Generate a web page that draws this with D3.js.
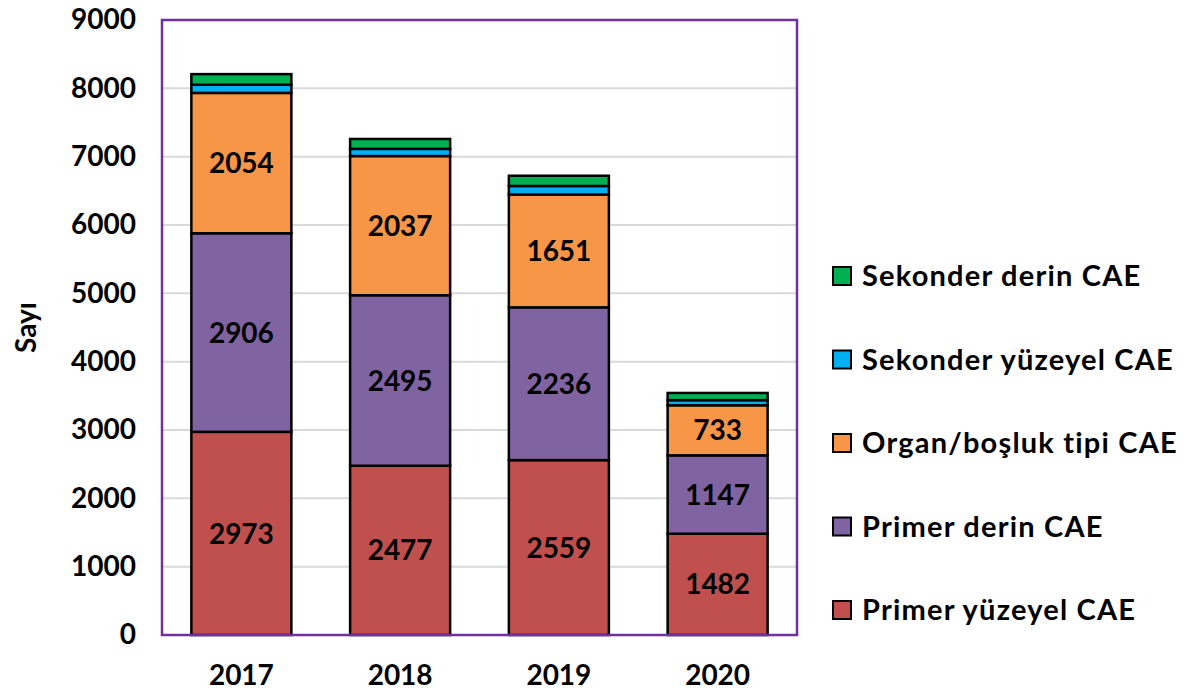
<!DOCTYPE html>
<html>
<head>
<meta charset="utf-8">
<script src="https://cdn.jsdelivr.net/npm/d3@7"></script>
<style>
  body { margin: 0; background: #fff; }
  text { font-family: Lato, "Open Sans", sans-serif; font-weight: bold; }
</style>
</head>
<body>
<div id="chart"></div>
<script>
var years = ["2017", "2018", "2019", "2020"];
var seriesNames = ["Primer yüzeyel CAE", "Primer derin CAE", "Organ/boşluk tipi CAE", "Sekonder yüzeyel CAE", "Sekonder derin CAE"];
var seriesColors = ["#c0504d", "#8064a2", "#f79646", "#00b0f0", "#00b050"];
var primerYuzeyel = [2973, 2477, 2559, 1482];
var primerDerin = [2906, 2495, 2236, 1147];
var organBosluk = [2054, 2037, 1651, 733];
var sekonderYuzeyel = [120, 105, 125, 75];
var sekonderDerin = [155, 145, 150, 105];
var yTicks = [0, 1000, 2000, 3000, 4000, 5000, 6000, 7000, 8000, 9000];

var width = 1200, height = 693;
var margin = {top: 20, right: 403, bottom: 58, left: 162};
var plotW = width - margin.left - margin.right;
var plotH = height - margin.top - margin.bottom;

var seriesValues = [primerYuzeyel, primerDerin, organBosluk, sekonderYuzeyel, sekonderDerin];
var table = years.map(function(y, i) {
    var row = {year: y};
    seriesNames.forEach(function(s, j) { row[s] = seriesValues[j][i]; });
    return row;
});
var stacked = d3.stack().keys(seriesNames)(table);

var svg = d3.select("#chart").append("svg")
    .attr("width", width)
    .attr("height", height);

var g = svg.append("g")
    .attr("transform", "translate(" + margin.left + "," + margin.top + ")");

var x = d3.scaleBand().domain(years).range([0, plotW]).paddingInner(0.37).paddingOuter(0.185);
var y = d3.scaleLinear().domain([0, 9000]).range([plotH, 0]);

// gridlines
g.selectAll(".grid")
    .data(yTicks.slice(1))
    .enter().append("line")
    .attr("x1", 0).attr("x2", plotW)
    .attr("y1", function(d) { return y(d); })
    .attr("y2", function(d) { return y(d); })
    .attr("stroke", "#d9d9d9")
    .attr("stroke-width", 2);

// bars
var layers = g.selectAll(".layer")
    .data(stacked)
    .enter().append("g")
    .attr("fill", function(d, i) { return seriesColors[i]; });

layers.selectAll("rect")
    .data(function(d) { return d; })
    .enter().append("rect")
    .attr("x", function(d) { return x(d.data.year); })
    .attr("y", function(d) { return y(d[1]); })
    .attr("width", x.bandwidth())
    .attr("height", function(d) { return y(d[0]) - y(d[1]); })
    .attr("stroke", "#000")
    .attr("stroke-width", 2.5);

// labels for the three big series
stacked.slice(0, 3).forEach(function(layer) {
    g.selectAll(null)
        .data(layer)
        .enter().append("text")
        .attr("x", function(d) { return x(d.data.year) + x.bandwidth() / 2; })
        .attr("y", function(d) { return (y(d[0]) + y(d[1])) / 2; })
        .attr("dy", "0.36em")
        .attr("text-anchor", "middle")
        .attr("font-size", 28)
        .attr("fill", "#000")
        .text(function(d) { return d[1] - d[0]; });
});

// plot border
g.append("rect")
    .attr("x", 0).attr("y", 0)
    .attr("width", plotW).attr("height", plotH)
    .attr("fill", "none")
    .attr("stroke", "#7030a0")
    .attr("stroke-width", 2.5);

// y axis
var yAxis = g.append("g")
    .call(d3.axisLeft(y).tickValues(yTicks).tickFormat(d3.format("d")).tickSize(0).tickPadding(26));
yAxis.select(".domain").remove();
yAxis.selectAll("text")
    .attr("font-size", 28)
    .attr("font-family", "Lato, sans-serif")
    .attr("font-weight", "bold")
    .attr("fill", "#000");

// x axis
var xAxis = g.append("g")
    .attr("transform", "translate(0," + plotH + ")")
    .call(d3.axisBottom(x).tickSize(0).tickPadding(30));
xAxis.select(".domain").remove();
xAxis.selectAll("text")
    .attr("font-size", 28)
    .attr("font-family", "Lato, sans-serif")
    .attr("font-weight", "bold")
    .attr("fill", "#000");

// y title
svg.append("text")
    .attr("transform", "translate(36," + (margin.top + plotH / 2) + ") rotate(-90)")
    .attr("text-anchor", "middle")
    .attr("font-size", 28)
    .attr("fill", "#000")
    .text("Sayı");

// legend
var legendOrder = seriesNames.slice().reverse();
var legend = svg.append("g")
    .attr("transform", "translate(832,276)");
var items = legend.selectAll(".item")
    .data(legendOrder)
    .enter().append("g")
    .attr("transform", function(d, i) { return "translate(0," + (i * 83.5) + ")"; });
items.append("rect")
    .attr("x", 1).attr("y", -9)
    .attr("width", 18).attr("height", 18)
    .attr("fill", function(d) { return seriesColors[seriesNames.indexOf(d)]; })
    .attr("stroke", "#000")
    .attr("stroke-width", 2);
items.append("text")
    .attr("x", 30)
    .attr("dy", "0.36em")
    .attr("font-size", 29)
    .attr("letter-spacing", 1.2)
    .attr("fill", "#000")
    .text(function(d) { return d; });
</script>
</body>
</html>
